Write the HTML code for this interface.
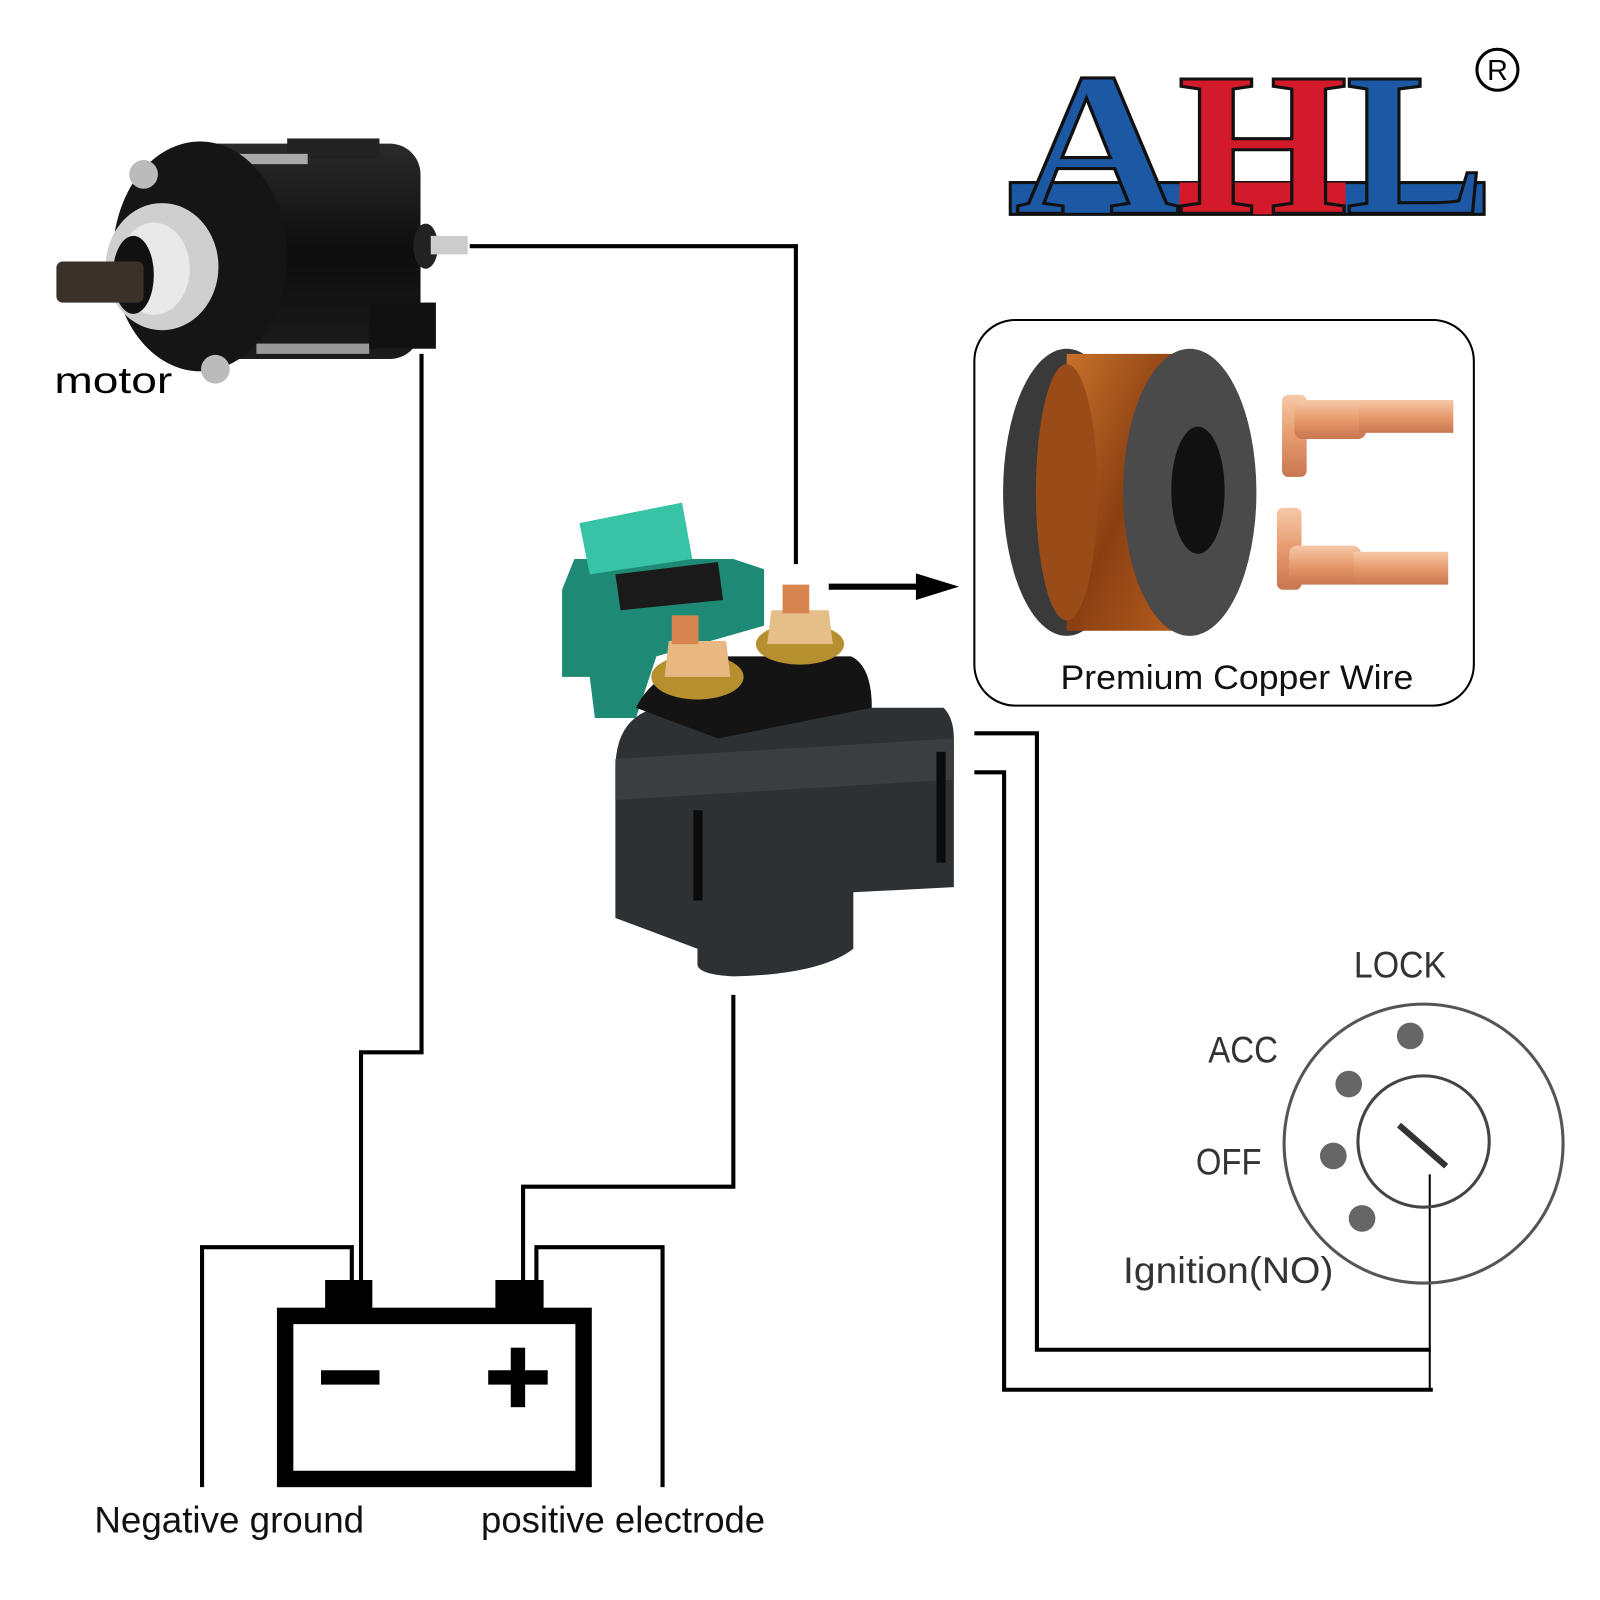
<!DOCTYPE html>
<html><head><meta charset="utf-8"><style>
html,body{margin:0;padding:0;background:#fff}
svg{display:block}
.t{font-family:"Liberation Sans","DejaVu Sans",sans-serif}
.logo{font-family:"Liberation Serif","DejaVu Serif",serif;font-weight:bold}
</style></head><body>
<svg width="1600" height="1600" viewBox="0 0 1560 1560" xmlns="http://www.w3.org/2000/svg">
<defs>
<linearGradient id="blk" x1="0" y1="0" x2="0" y2="1"><stop offset="0" stop-color="#2a2a2a"/><stop offset=".5" stop-color="#0d0d0d"/><stop offset="1" stop-color="#1c1c1c"/></linearGradient>
<linearGradient id="cu" x1="0" y1="0" x2="1" y2="1"><stop offset="0" stop-color="#c8722a"/><stop offset=".5" stop-color="#8a3f12"/><stop offset="1" stop-color="#b9601f"/></linearGradient>
<linearGradient id="sc" x1="0" y1="0" x2="0" y2="1"><stop offset="0" stop-color="#f6c9a8"/><stop offset=".5" stop-color="#e79b6e"/><stop offset="1" stop-color="#c87650"/></linearGradient>
</defs>

<!-- AHL logo -->
<rect x="985" y="178" width="462" height="31" fill="#1c58a3" stroke="#111" stroke-width="3"/>
<rect x="1150" y="178" width="162" height="31" fill="#d21a2a"/>
<g class="logo" font-size="200" stroke="#111" stroke-width="3">
<text x="990" y="208" fill="#1c58a3" textLength="160" lengthAdjust="spacingAndGlyphs">A</text>
<text x="1148" y="208" fill="#d21a2a" textLength="166" lengthAdjust="spacingAndGlyphs">H</text>
<text x="1312" y="208" fill="#1c58a3" textLength="136" lengthAdjust="spacingAndGlyphs">L</text>
</g>
<circle cx="1460" cy="68" r="20" fill="none" stroke="#000" stroke-width="3"/>
<text class="t" x="1460" y="78" font-size="28" text-anchor="middle">R</text>

<!-- wires -->
<g fill="none" stroke="#000" stroke-width="4">
<polyline points="458,240 776,240 776,550"/>
<polyline points="411,345 411,1026 352,1026 352,1250"/>
<polyline points="715,970 715,1157 510,1157 510,1250"/>
<polyline points="197,1450 197,1216 343,1216 343,1250"/>
<polyline points="523,1250 523,1216 646,1216 646,1450"/>
<polyline points="950,715 1011,715 1011,1316 1395,1316"/>
<polyline points="950,753 979,753 979,1355 1397,1355"/>
</g>
<line x1="1394" y1="1145" x2="1394" y2="1355" stroke="#000" stroke-width="2"/>

<!-- arrow -->
<line x1="808" y1="572" x2="900" y2="572" stroke="#000" stroke-width="6"/>
<polygon points="893,559 935,572 893,585" fill="#000"/>

<!-- battery -->
<rect x="278" y="1283" width="291" height="159" fill="none" stroke="#000" stroke-width="16"/>
<rect x="317" y="1248" width="46" height="30" fill="#000"/>
<rect x="483" y="1248" width="47" height="30" fill="#000"/>
<rect x="313" y="1336" width="57" height="14" fill="#000"/>
<rect x="476" y="1336" width="58" height="14" fill="#000"/>
<rect x="498" y="1314" width="14" height="58" fill="#000"/>

<!-- ignition -->
<circle cx="1388" cy="1115" r="136" fill="none" stroke="#555" stroke-width="3"/>
<circle cx="1388" cy="1113" r="64" fill="none" stroke="#444" stroke-width="3"/>
<g fill="#666"><circle cx="1375" cy="1010" r="13"/><circle cx="1315" cy="1057" r="13"/><circle cx="1300" cy="1127" r="13"/><circle cx="1328" cy="1188" r="13"/></g>
<line x1="1364" y1="1097" x2="1410" y2="1137" stroke="#333" stroke-width="6"/>

<!-- copper box -->
<rect x="950" y="312" width="487" height="376" rx="40" fill="#fff" stroke="#000" stroke-width="2"/>
<text class="t" x="1034" y="672" font-size="33" fill="#111" textLength="344" lengthAdjust="spacingAndGlyphs">Premium Copper Wire</text>
<ellipse cx="1040" cy="480" rx="62" ry="140" fill="#3a3a3a"/>
<path d="M1040,345 L1160,345 L1160,615 L1040,615 Z" fill="url(#cu)"/>
<ellipse cx="1040" cy="480" rx="30" ry="125" fill="#9a4c18"/>
<ellipse cx="1160" cy="480" rx="65" ry="140" fill="#4a4a4a"/>
<ellipse cx="1168" cy="478" rx="26" ry="62" fill="#111"/>
<g fill="url(#sc)">
<rect x="1250" y="385" width="24" height="80" rx="6"/><rect x="1262" y="390" width="70" height="38" rx="8"/><rect x="1325" y="390" width="92" height="32"/>
<rect x="1245" y="495" width="24" height="80" rx="6"/><rect x="1257" y="532" width="70" height="38" rx="8"/><rect x="1320" y="538" width="92" height="32"/>
</g>

<!-- motor -->
<g>
<rect x="180" y="140" width="230" height="210" rx="30" fill="url(#blk)"/>
<rect x="280" y="135" width="90" height="20" fill="#222"/>
<rect x="190" y="150" width="110" height="10" fill="#aaa"/>
<rect x="250" y="335" width="110" height="10" fill="#999"/>
<ellipse cx="195" cy="250" rx="85" ry="112" fill="#151515"/>
<ellipse cx="158" cy="260" rx="55" ry="62" fill="#cfcfcf"/>
<ellipse cx="150" cy="262" rx="35" ry="45" fill="#e9e9e9"/>
<ellipse cx="130" cy="268" rx="20" ry="38" fill="#111"/>
<rect x="55" y="255" width="85" height="40" rx="6" fill="#3a3228"/>
<rect x="360" y="295" width="65" height="45" fill="#111"/>
<circle cx="140" cy="170" r="14" fill="#bbb"/><circle cx="210" cy="360" r="14" fill="#bbb"/>
<ellipse cx="415" cy="240" rx="12" ry="22" fill="#222"/>
<rect x="420" y="230" width="36" height="18" fill="#ccc"/>
</g>

<!-- labels -->
<g class="t" font-size="36" fill="#111">
<text x="53" y="383" fill="#000" textLength="115" lengthAdjust="spacingAndGlyphs">motor</text>
<text x="1320" y="953" fill="#333" textLength="90" lengthAdjust="spacingAndGlyphs">LOCK</text>
<text x="1178" y="1036" fill="#333" textLength="68" lengthAdjust="spacingAndGlyphs">ACC</text>
<text x="1166" y="1145" fill="#333" textLength="64" lengthAdjust="spacingAndGlyphs">OFF</text>
<text x="1095" y="1251" fill="#333" textLength="205" lengthAdjust="spacingAndGlyphs">Ignition(NO)</text>
<text x="92" y="1494" textLength="263" lengthAdjust="spacingAndGlyphs">Negative ground</text>
<text x="469" y="1494" textLength="277" lengthAdjust="spacingAndGlyphs">positive electrode</text>
</g>

<!-- solenoid -->
<g>
<path d="M600,750 Q600,700 640,690 L920,690 Q930,700 930,720 L930,865 L832,870 L832,925 Q800,950 715,952 Q680,950 680,940 L680,925 L600,895 Z" fill="#2e3133"/>
<path d="M600,740 L930,720 L930,760 L600,780 Z" fill="#3b3e40"/>
<rect x="676" y="790" width="9" height="88" fill="#0b0b0b"/>
<rect x="913" y="733" width="9" height="108" fill="#0b0b0b"/>
<path d="M548,575 L548,660 L575,660 L580,700 L620,700 L640,640 L745,610 L745,555 L715,545 L560,545 Z" fill="#1e8a76"/>
<path d="M565,510 L665,490 L675,545 L575,560 Z" fill="#37c3a6"/>
<path d="M600,560 L700,548 L705,585 L605,595 Z" fill="#1a1a1a"/>
<path d="M620,690 Q640,650 700,640 L830,640 Q850,650 850,690 L700,720 Z" fill="#141414"/>
<ellipse cx="680" cy="660" rx="45" ry="22" fill="#b6902e"/>
<path d="M652,625 L708,625 L712,660 L648,660 Z" fill="#e8b782"/>
<rect x="655" y="600" width="26" height="28" fill="#d8844f"/>
<ellipse cx="780" cy="628" rx="43" ry="20" fill="#b6902e"/>
<path d="M752,595 L808,595 L812,628 L748,628 Z" fill="#e6be8a"/>
<rect x="763" y="570" width="26" height="28" fill="#d8844f"/>
</g>
</svg>
</body></html>
